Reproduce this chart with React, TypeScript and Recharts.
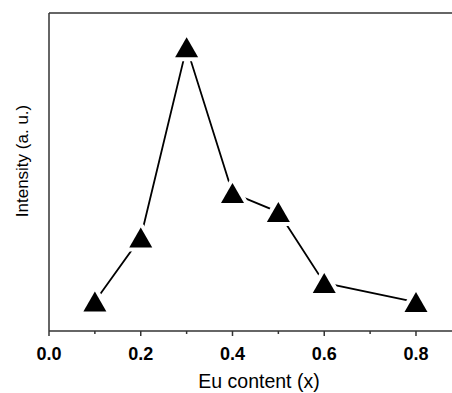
import { LineChart, Line, XAxis, YAxis, ReferenceLine } from 'recharts';

// Eu content vs. PL intensity (arbitrary units)
const EU_CONTENT = [0.1, 0.2, 0.3, 0.4, 0.5, 0.6, 0.8];
const INTENSITY = [9.3, 29.4, 89.2, 43.4, 37.4, 15.1, 9.1];
const X_TICKS = [0, 0.1, 0.2, 0.3, 0.4, 0.5, 0.6, 0.7, 0.8];
const X_MAJOR = [0, 0.2, 0.4, 0.6, 0.8];

const data = EU_CONTENT.map((x, i) => ({ x, y: INTENSITY[i] }));

const FONT = '"Liberation Sans", Arial, Helvetica, sans-serif';
const AXIS = '#333';

function Triangle(props: any) {
  const { cx, cy } = props;
  if (cx == null || cy == null) return null;
  const w = 11.5, h = 10;
  const d = `M${cx - w},${cy + h} L${cx + w},${cy + h} L${cx},${cy - h} Z`;
  return (
    <path d={d} fill="#000" stroke="#fff" strokeWidth={8}
      strokeLinejoin="round" paintOrder="stroke" />
  );
}

function XTick(props: any) {
  const { x, y, payload } = props;
  const major = X_MAJOR.some(m => Math.abs(m - payload.value) < 1e-6);
  return (
    <g>
      <line x1={x} x2={x} y1={y} y2={y + (major ? 5 : 3)} stroke={AXIS} strokeWidth={1.5} />
      {major && (
        <text x={x} y={y + 29} textAnchor="middle" fontSize={18} fontWeight="bold"
          fontFamily={FONT} fill="#000">
          {payload.value.toFixed(1)}
        </text>
      )}
    </g>
  );
}

export default function App() {
  return (
    <div style={{ position: 'absolute', left: 0, top: 0, background: '#fff' }}>
      <LineChart width={452} height={393} data={data}
        margin={{ top: 13, right: 0, bottom: 0, left: 0 }}>
        <XAxis
          dataKey="x" type="number" domain={[0, 0.8785]} ticks={X_TICKS}
          interval={0} height={62} tickSize={0} tickMargin={0}
          tick={<XTick />} tickLine={false}
          axisLine={{ stroke: AXIS, strokeWidth: 1.5 }}
          label={{
            content: () => (
              <text x={259} y={388} textAnchor="middle" fontSize={19.5}
                fontFamily={FONT} fill="#000">Eu content (x)</text>
            ),
          }}
        />
        <YAxis
          type="number" domain={[0, 100]} width={49} tick={false} tickLine={false}
          axisLine={{ stroke: AXIS, strokeWidth: 1.5 }}
          label={{
            content: () => (
              <text x={28} y={161} transform="rotate(-90, 28, 161)" textAnchor="middle"
                fontSize={17} fontFamily={FONT} fill="#000">Intensity (a. u.)</text>
            ),
          }}
        />
        <ReferenceLine y={100} stroke={AXIS} strokeWidth={1.5} />
        <Line type="linear" dataKey="y" stroke="#000" strokeWidth={1.8}
          dot={<Triangle />} activeDot={false} isAnimationActive={false} />
      </LineChart>
    </div>
  );
}
